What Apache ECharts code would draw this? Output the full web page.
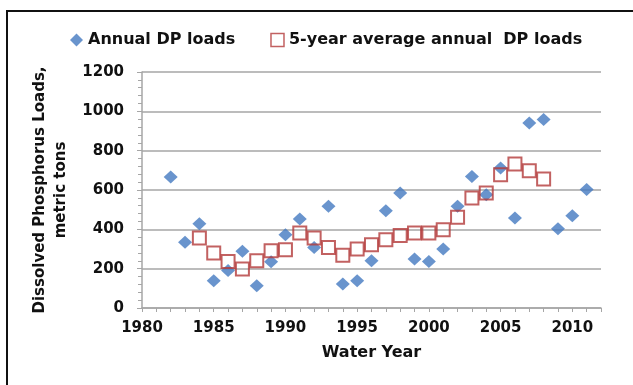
<!DOCTYPE html>
<html>
<head>
<meta charset="utf-8">
<script src="https://cdn.jsdelivr.net/npm/echarts@6/dist/echarts.min.js"></script>
<style>
html,body{margin:0;padding:0;background:#fff;}
#chart{width:633px;height:385px;}
</style>
</head>
<body>
<div id="chart"></div>
<script>
var annualYears = [1982,1983,1984,1985,1986,1987,1988,1989,1990,1991,1992,1993,1994,1995,1996,1997,1998,1999,2000,2001,2002,2003,2004,2005,2006,2007,2008,2009,2010,2011];
var annualLoads = [666,334,429,139,191,288,113,235,373,452,308,517,122,139,240,495,585,249,237,300,517,669,576,712,458,941,958,403,469,602];
var avgYears = [1984,1985,1986,1987,1988,1989,1990,1991,1992,1993,1994,1995,1996,1997,1998,1999,2000,2001,2002,2003,2004,2005,2006,2007,2008];
var avgLoads = [356,280,237,198,240,291,296,381,356,308,268,300,322,347,369,381,381,398,461,559,585,678,732,698,656];
var xTickLabels = [1980,1985,1990,1995,2000,2005,2010];
var yTickLabels = [0,200,400,600,800,1000,1200];

var font = '"DejaVu Sans", sans-serif';
var chart = echarts.init(document.getElementById('chart'), null, {renderer:'canvas'});
var option = {
  animation:false,
  backgroundColor:'#fff',
  graphic:[{
    type:'polyline',
    shape:{points:[[7,400],[7,11],[640,11]]},
    style:{stroke:'#111',lineWidth:2,fill:null}
  }],
  legend:{
    left:65, top:27,
    itemWidth:13, itemHeight:13, itemGap:35,
    textStyle:{fontFamily:font,fontWeight:'bold',fontSize:16,color:'#111'},
    data:[
      {name:'Annual DP loads', icon:'diamond', itemStyle:{color:'#4379c0'}},
      {name:'5-year average annual  DP loads', icon:'rect', itemStyle:{color:'#fff',borderColor:'#b3393a',borderWidth:1.5}}
    ]
  },
  grid:{left:142, right:32, top:72, bottom:77, containLabel:false},
  xAxis:{
    type:'value', min:1980, max:2012, interval:1,
    name:'Water Year', nameLocation:'middle', nameGap:37,
    nameTextStyle:{fontFamily:font,fontWeight:'bold',fontSize:16,color:'#111'},
    axisLine:{show:true,lineStyle:{color:'#a6a6a6',width:1.5}},
    axisTick:{show:true,length:4,lineStyle:{color:'#a6a6a6'}},
    splitLine:{show:false},
    axisLabel:{
      fontFamily:font,fontWeight:'bold',fontSize:15,color:'#111',margin:13,
      formatter:function(v){ return xTickLabels.indexOf(v)>=0 ? String(v) : ''; }
    }
  },
  yAxis:{
    type:'value', min:0, max:1200, interval:200,
    name:'Dissolved Phosphorus Loads,\nmetric tons', nameLocation:'middle', nameGap:70,
    nameTextStyle:{fontFamily:font,fontWeight:'bold',fontSize:15,color:'#111',lineHeight:21},
    axisLine:{show:true,lineStyle:{color:'#a6a6a6',width:1.5}},
    axisTick:{show:true,length:5,lineStyle:{color:'#a6a6a6'}},
    minorTick:{show:true,splitNumber:5,length:4,lineStyle:{color:'#a6a6a6'}},
    splitLine:{show:true,lineStyle:{color:'#bcbcbc',width:2}},
    axisLabel:{
      fontFamily:font,fontWeight:'bold',fontSize:15,color:'#111',margin:18,
      formatter:function(v){ return yTickLabels.indexOf(v)>=0 ? String(v) : ''; }
    }
  },
  series:[
    {
      name:'Annual DP loads', type:'scatter', symbol:'diamond', symbolSize:[14,13],
      itemStyle:{color:'#4379c0'},
      z:3,
      data:annualYears.map(function(y,i){return [y,annualLoads[i]];})
    },
    {
      name:'5-year average annual  DP loads', type:'scatter', symbol:'rect', symbolSize:[13,13],
      itemStyle:{color:'rgba(255,255,255,0)',borderColor:'#b3393a',borderWidth:2},
      z:4,
      data:avgYears.map(function(y,i){return [y,avgLoads[i]];})
    }
  ]
};
chart.setOption(option);
</script>
</body>
</html>
